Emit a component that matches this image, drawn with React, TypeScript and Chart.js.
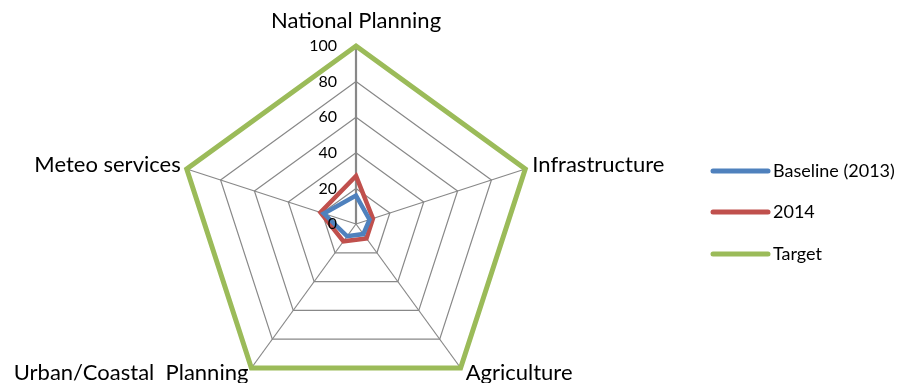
import React, { useEffect, useRef } from "react";
import { Chart, registerables } from "chart.js";

Chart.register(...registerables);

// ---- data ----
const categories = [
  "National Planning",
  "Infrastructure",
  "Agriculture",
  "Urban/Coastal  Planning",
  "Meteo services",
];
const baseline2013 = [16, 8, 7, 8.5, 19];
const values2014 = [27, 10, 10, 12, 21];
const targetValues = [100, 100, 100, 100, 100];
const seriesNames = ["Baseline (2013)", "2014", "Target"];
const tickMin = 0;
const tickMax = 100;
const tickStep = 20;

// ---- styling ----
const FONT = "Lato, 'Liberation Sans', sans-serif";
const COLORS = ["#4F81BD", "#C0504D", "#9BBB59"];
const GRID = "#888888";

// per-label placement (layout only): [align, dx, dy baseline offset]
const LABEL_PLACEMENT: Array<[CanvasTextAlign, number, number]> = [
  ["center", 0, -18],
  ["left", 7, 3],
  ["left", 5, 12],
  ["right", -3, 12],
  ["right", -6, 3],
];

const overlayPlugin = {
  id: "overlayText",
  afterDraw(chart: any) {
    const scale = chart.scales.r;
    const ctx: CanvasRenderingContext2D = chart.ctx;
    ctx.save();
    ctx.fillStyle = "#000000";

    // tick labels, right of the value axis
    ctx.font = `16px ${FONT}`;
    ctx.textAlign = "right";
    ctx.textBaseline = "middle";
    scale.ticks.forEach((t: any) => {
      const d = scale.getDistanceFromCenterForValue(t.value);
      ctx.fillText(String(t.label), scale.xCenter - 19, scale.yCenter - d);
    });

    // point labels
    ctx.font = `22px ${FONT}`;
    ctx.textBaseline = "alphabetic";
    (chart.data.labels as string[]).forEach((lab, i) => {
      const p = scale.getPointPosition(i, scale.drawingArea);
      const [align, dx, dy] = LABEL_PLACEMENT[i];
      ctx.textAlign = align;
      ctx.fillText(lab, p.x + dx, p.y + dy);
    });

    // legend
    const legendX = 713;
    const legendY = [171, 212, 254];
    ctx.font = `18px ${FONT}`;
    ctx.textAlign = "left";
    chart.data.datasets.forEach((ds: any, i: number) => {
      const y = legendY[i];
      ctx.strokeStyle = ds.borderColor;
      ctx.lineWidth = 5;
      ctx.lineCap = "round";
      ctx.beginPath();
      ctx.moveTo(legendX, y);
      ctx.lineTo(legendX + 55, y);
      ctx.stroke();
      ctx.fillText(ds.label, legendX + 60, y + 6);
    });
    ctx.restore();
  },
};

export default function App() {
  const canvasRef = useRef<HTMLCanvasElement | null>(null);

  useEffect(() => {
    const canvas = canvasRef.current;
    if (!canvas) return;
    const seriesData = [baseline2013, values2014, targetValues];
    const chart = new Chart(canvas, {
      type: "radar",
      data: {
        labels: categories,
        datasets: seriesData.map((d, i) => ({
          label: seriesNames[i],
          data: d,
          borderColor: COLORS[i],
          backgroundColor: COLORS[i],
          borderWidth: i === 2 ? 5 : 4.5,
          pointRadius: 0,
          pointHoverRadius: 0,
          fill: false,
          borderJoinStyle: "miter" as const,
          tension: 0,
        })),
      },
      options: {
        responsive: false,
        animation: false,
        events: [],
        layout: {
          padding: { left: 178, right: 913 - 534, top: 46, bottom: 420 - 402 },
        },
        plugins: {
          legend: { display: false },
          tooltip: { enabled: false },
        },
        scales: {
          r: {
            min: tickMin,
            max: tickMax,
            ticks: { stepSize: tickStep, display: false },
            pointLabels: { display: false },
            grid: { color: GRID, lineWidth: 1.2, circular: false },
            angleLines: {
              color: GRID,
              lineWidth: (c: any) => (c.index === 0 ? 2.2 : 1.2),
            },
          },
        },
      },
      plugins: [overlayPlugin],
    });
    return () => chart.destroy();
  }, []);

  return (
    <div
      style={{
        position: "fixed",
        left: 0,
        top: 0,
        width: 913,
        height: 383,
        overflow: "hidden",
        background: "#ffffff",
      }}
    >
      <canvas
        ref={canvasRef}
        width={913}
        height={420}
        style={{ display: "block", width: 913, height: 420 }}
      />
    </div>
  );
}
